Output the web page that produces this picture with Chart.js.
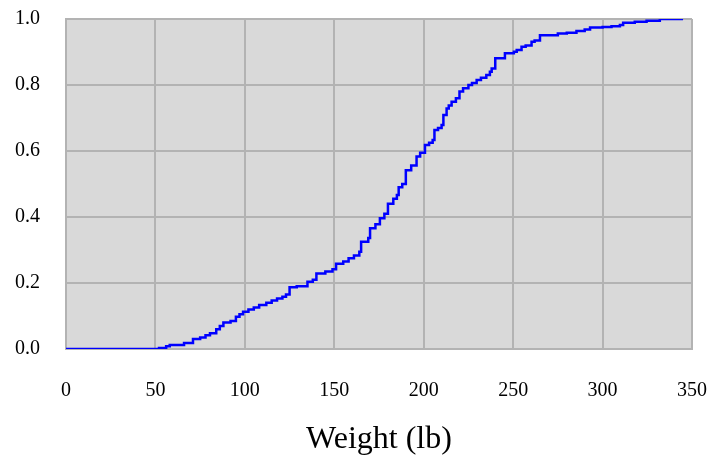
<!DOCTYPE html>
<html>
<head>
<meta charset="utf-8">
<script src="https://cdn.jsdelivr.net/npm/chart.js@4.4.0/dist/chart.umd.min.js"></script>
<style>
  html, body { margin: 0; padding: 0; background: #fff; }
  #wrap { width: 712px; height: 455px; }
</style>
</head>
<body>
<div id="wrap"><canvas id="myChart" width="712" height="455"></canvas></div>
<script>
var weights = [0, 52, 56, 58, 66, 71, 75, 78, 80.5, 84, 86, 88, 92, 95, 97, 99, 102, 105, 108, 112, 115, 118, 121, 123, 125, 129, 135, 138, 140, 145, 149, 151, 155, 158, 161, 164, 165, 169, 170, 173, 175.5, 178, 180, 183, 185, 186, 188, 190, 193, 196, 198, 200.7, 203, 205, 206, 208, 210, 211, 212.8, 214, 215.6, 218, 220, 222, 225, 227, 229.6, 232, 235, 237, 238, 240, 245.4, 250.4, 252, 254.7, 257, 260.3, 262, 265, 275, 280, 285.4, 290, 293, 300, 305, 309.7, 311.5, 318, 324.6, 332, 345];
var cdf = [0, 0.003, 0.008, 0.012, 0.018, 0.03, 0.035, 0.042, 0.048, 0.06, 0.07, 0.08, 0.085, 0.098, 0.105, 0.113, 0.12, 0.126, 0.133, 0.14, 0.147, 0.153, 0.158, 0.165, 0.187, 0.19, 0.204, 0.21, 0.229, 0.235, 0.242, 0.258, 0.265, 0.275, 0.283, 0.295, 0.325, 0.336, 0.366, 0.378, 0.396, 0.41, 0.44, 0.455, 0.467, 0.49, 0.5, 0.542, 0.556, 0.583, 0.595, 0.618, 0.625, 0.633, 0.664, 0.67, 0.679, 0.709, 0.729, 0.738, 0.749, 0.76, 0.78, 0.79, 0.8, 0.806, 0.815, 0.822, 0.83, 0.84, 0.85, 0.881, 0.896, 0.901, 0.906, 0.916, 0.92, 0.931, 0.935, 0.951, 0.956, 0.958, 0.964, 0.968, 0.974, 0.976, 0.978, 0.982, 0.989, 0.992, 0.995, 1.0, 1.0];
var xTicks = [0, 50, 100, 150, 200, 250, 300, 350];
var yTicks = [0, 0.2, 0.4, 0.6, 0.8, 1.0];
var xTitle = 'Weight (lb)';

var points = weights.map(function (w, i) { return { x: w, y: cdf[i] }; });

var plotBg = {
    id: 'plotBg',
    beforeDraw: function (chart) {
        var a = chart.chartArea, c = chart.ctx;
        c.save();
        c.fillStyle = '#d9d9d9';
        c.fillRect(a.left, a.top, a.right - a.left, a.bottom - a.top);
        c.restore();
    }
};

// stop the labels at the ends from pushing the plot area in
function noOverhang(s) {
    s.paddingTop = 0;
    s.paddingBottom = 0;
    s.paddingLeft = 0;
    s.paddingRight = 0;
}

var serif = '"Liberation Serif", "Times New Roman", serif';
var ctx = document.getElementById('myChart').getContext('2d');
var myChart = new Chart(ctx, {
    type: 'line',
    data: {
        datasets: [{
            data: points,
            stepped: 'before',
            borderColor: '#0000ff',
            borderWidth: 2.5,
            pointRadius: 0,
            fill: false
        }]
    },
    options: {
        responsive: false,
        animation: false,
        layout: { padding: { top: 19, right: 20, left: 0, bottom: 0 } },
        plugins: { legend: { display: false }, tooltip: { enabled: false } },
        scales: {
            x: {
                type: 'linear',
                min: 0, max: 350,
                afterBuildTicks: function (s) { s.ticks = xTicks.map(function (v) { return { value: v }; }); },
                afterFit: function (s) { s.height = 106; noOverhang(s); },
                grid: { color: '#b3b3b3', lineWidth: 2, drawTicks: false },
                border: { color: '#b3b3b3', width: 2 },
                ticks: { color: '#000', padding: 30, maxRotation: 0, font: { family: serif, size: 20 } },
                title: { display: true, text: xTitle, color: '#000', padding: { top: 0, bottom: 0 }, font: { family: serif, size: 32, lineHeight: 0.95 } }
            },
            y: {
                min: 0, max: 1,
                afterBuildTicks: function (s) { s.ticks = yTicks.map(function (v) { return { value: v }; }); },
                afterFit: function (s) { s.width = 66; noOverhang(s); },
                grid: { color: '#b3b3b3', lineWidth: 2, drawTicks: false },
                border: { color: '#b3b3b3', width: 2 },
                ticks: {
                    color: '#000', padding: 26,
                    font: { family: serif, size: 20 },
                    callback: function (v) { return Number(v).toFixed(1); }
                }
            }
        }
    },
    plugins: [plotBg]
});
</script>
</body>
</html>
